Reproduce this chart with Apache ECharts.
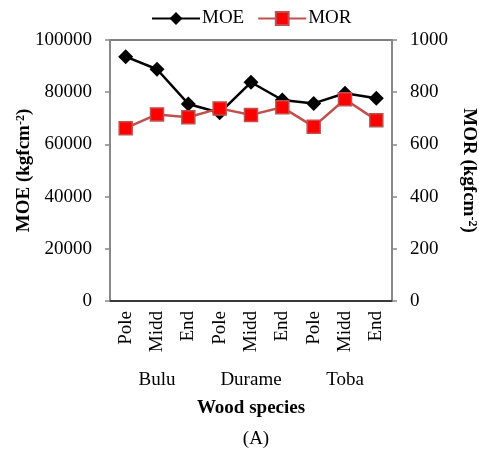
<!DOCTYPE html>
<html>
<head>
<meta charset="utf-8">
<style>
  html, body { margin: 0; padding: 0; background: #fff; }
  #main { width: 479px; height: 457px; }
</style>
<script src="https://cdn.jsdelivr.net/npm/echarts@6/dist/echarts.min.js"></script>
</head>
<body>
<div id="main"></div>
<script>
// parts of the tree, in order
var parts = ['Pole', 'Midd', 'End', 'Pole', 'Midd', 'End', 'Pole', 'Midd', 'End'];
var species = ['Bulu', 'Durame', 'Toba'];
// kgf/cm2
var moe = [93600, 88800, 75500, 72100, 83800, 77000, 75700, 79600, 77700];
var mor = [662, 715, 704, 738, 713, 742, 668, 773, 693];

var serif = '"Liberation Serif", "Times New Roman", serif';
var fs = 19;

function plain(v) { return String(v); }

var option = {
    animation: false,
    textStyle: { fontFamily: serif, color: '#000' },
    title: {
        text: '(A)',
        left: 251,
        top: 425,
        textAlign: 'center',
        textStyle: { fontFamily: serif, fontSize: fs, fontWeight: 'normal', color: '#000' }
    },
    legend: {
        left: 146,
        top: 4,
        itemWidth: 48,
        itemHeight: 16,
        itemGap: 13,
        textStyle: { fontFamily: serif, fontSize: fs, color: '#000', padding: [0, 0, 0, -3] },
        data: ['MOE', 'MOR']
    },
    grid: {
        left: 110,
        right: 87,
        top: 40,
        bottom: 156,
        outerBoundsMode: 'none',
        show: true,
        borderColor: '#000',
        borderWidth: 1
    },
    xAxis: [
        {
            type: 'category',
            data: parts,
            axisLine: { lineStyle: { color: '#222', width: 1.5 } },
            axisTick: { show: false },
            axisLabel: { rotate: 90, margin: 10, fontFamily: serif, fontSize: fs, color: '#000' }
        },
        {
            type: 'category',
            data: species,
            position: 'bottom',
            offset: 62,
            axisLine: { show: false },
            axisTick: { show: false },
            axisLabel: { margin: 8, fontFamily: serif, fontSize: fs, color: '#000' },
            name: 'Wood species',
            nameLocation: 'middle',
            nameGap: 36,
            nameTextStyle: { fontFamily: serif, fontSize: fs, fontWeight: 'bold', color: '#000' }
        }
    ],
    yAxis: [
        {
            type: 'value',
            min: 0,
            max: 100000,
            interval: 20000,
            name: '{a|MOE (kgfcm}{s|-2}{a|)}',
            nameLocation: 'middle',
            nameGap: 76,
            nameRotate: 90,
            nameMoveOverlap: false,
            nameTextStyle: {
                rich: {
                    a: { fontFamily: serif, fontSize: fs, fontWeight: 'bold', color: '#000' },
                    s: { fontFamily: serif, fontSize: 12, fontWeight: 'bold', color: '#000', verticalAlign: 'top' }
                }
            },
            axisLine: { show: true, lineStyle: { color: '#888', width: 2 } },
            axisTick: { show: true, length: 5, lineStyle: { color: '#888', width: 1.5 } },
            axisLabel: { margin: 18, fontFamily: serif, fontSize: fs, color: '#000', formatter: plain },
            splitLine: { show: false }
        },
        {
            type: 'value',
            min: 0,
            max: 1000,
            interval: 200,
            position: 'right',
            name: '{a|MOR (kgfcm}{s|-2}{a|)}',
            nameLocation: 'middle',
            nameGap: 67,
            nameRotate: -90,
            nameTextStyle: {
                rich: {
                    a: { fontFamily: serif, fontSize: fs, fontWeight: 'bold', color: '#000' },
                    s: { fontFamily: serif, fontSize: 12, fontWeight: 'bold', color: '#000', verticalAlign: 'top' }
                }
            },
            axisLine: { show: true, lineStyle: { color: '#888', width: 2 } },
            axisTick: { show: true, length: 5, lineStyle: { color: '#888', width: 1.5 } },
            axisLabel: { margin: 18, fontFamily: serif, fontSize: fs, color: '#000', formatter: plain },
            splitLine: { show: false }
        }
    ],
    series: [
        {
            name: 'MOE',
            type: 'line',
            yAxisIndex: 0,
            data: moe,
            symbol: 'diamond',
            symbolSize: 15,
            itemStyle: { color: '#000' },
            lineStyle: { color: '#000', width: 2.5 },
            z: 2
        },
        {
            name: 'MOR',
            type: 'line',
            yAxisIndex: 1,
            data: mor,
            symbol: 'rect',
            symbolSize: 13,
            itemStyle: { color: '#f00', borderColor: '#c0504d', borderWidth: 1.5 },
            lineStyle: { color: '#c0504d', width: 2.5 },
            z: 3
        }
    ]
};

var myChart = echarts.init(document.getElementById('main'));
myChart.setOption(option);
</script>
</body>
</html>
